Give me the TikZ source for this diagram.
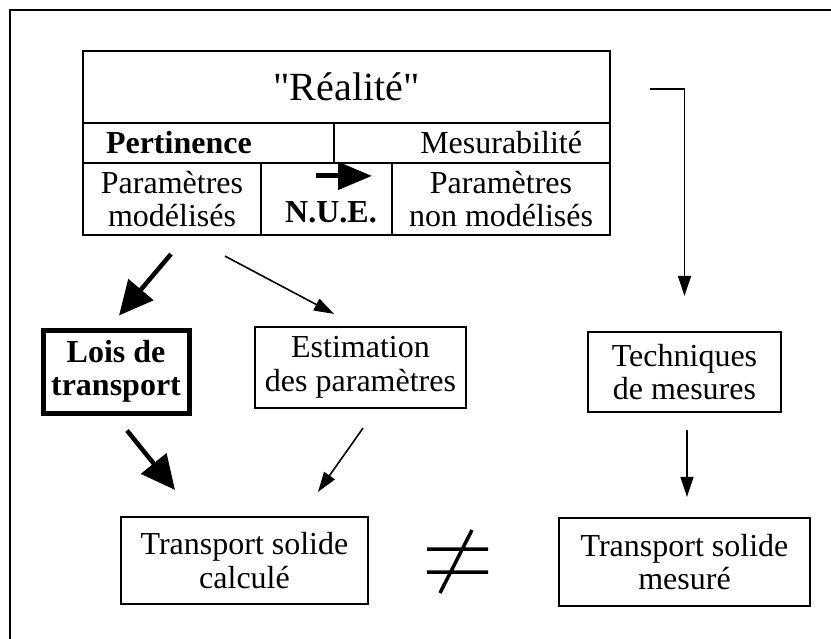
\documentclass[tikz,border=0pt]{standalone}
\usepackage{fontspec}
\setmainfont{Liberation Serif}
\newfontfamily\rawserif{Liberation Serif}
\usetikzlibrary{arrows.meta,calc}

\begin{document}
\begin{tikzpicture}[x=1pt, y=-1pt,
    cell/.style={draw, line width=2.2pt, inner sep=0pt, align=center},
    box/.style={draw, line width=2.2pt, inner sep=0pt, align=center},
    lawbox/.style={draw, line width=5pt, inner sep=0pt, align=center, font=\bfseries},
    thinarrow/.style={line width=1.6pt, -{Triangle[length=20pt,width=13pt]}},
    thickarrow/.style={line width=4.5pt, -{Triangle[length=34pt,width=32pt]}}]
    \useasboundingbox (0,0) rectangle (831,638);
    \fontsize{32}{33.5}\selectfont

    % Outer frame
    \draw[line width=2pt] (10,645) -- (10,10) -- (840,10);

    % Table of the "reality"
    \node[cell, minimum width=527pt, minimum height=72pt, font=\rawserif\fontsize{40}{44}\selectfont] (realite) at (346.5,87) {"Réalité"};
    \node[cell, minimum width=251pt, minimum height=40pt, text width=205pt, inner xsep=23pt, align=left, font=\bfseries] (pert) at (208.5,143) {Pertinence};
    \node[cell, minimum width=276pt, minimum height=40pt, text width=220pt, inner xsep=28pt, align=right] (mesur) at (472,143) {Mesurabilité};
    \node[cell, minimum width=178pt, minimum height=72pt] (pm) at (172,199) {Paramètres\\modélisés};
    \node[cell, minimum width=131pt, minimum height=72pt] (nue) at (326.5,199) {};
    \node[font=\bfseries, inner sep=0pt] (nuetext) at (331,212) {N.U.E.};
    \node[cell, minimum width=218pt, minimum height=72pt] (pnm) at (501,199) {Paramètres\\non modélisés};
    \draw[line width=5pt, -{Triangle[length=34pt,width=27pt]}] ($(nue.north)+(-10.5,14)$) -- ($(nue.north)+(45.5,14)$);

    % Middle row
    \node[lawbox, minimum width=146pt, minimum height=83pt] (lois) at (116,371.5) {Lois de\\transport};
    \node[box, minimum width=211pt, minimum height=81pt] (estim) at (360.5,367.5) {Estimation\\des paramètres};
    \node[box, minimum width=193pt, minimum height=80pt] (techn) at (684.5,372) {Techniques\\de mesures};

    % Bottom row
    \node[box, minimum width=247pt, minimum height=87pt] (calc) at (244.5,560.5) {Transport solide\\calculé};
    \node[box, minimum width=251pt, minimum height=88pt] (mesure) at (684.5,562) {Transport solide\\mesuré};

    % Not equal sign
    \draw[line width=3.5pt] (427,549) -- (488,549) (427,572) -- (488,572) (440,593) -- (472,530);

    % Connectors
    \draw[thickarrow] ($(pm.south)+(-1,18)$) -- ($(lois.north)+(3,-12)$);
    \draw[thinarrow] ($(pm.south)+(53,20)$) -- ($(estim.north)+(-26.5,-12)$);
    \draw[thickarrow] ($(lois.south)+(11,15)$) -- ($(calc.north)+(-69.5,-26)$);
    \draw[thinarrow] ($(estim.south)+(2.5,19)$) -- ($(calc.north)+(73.5,-24)$);
    \draw[thinarrow] ($(techn.south)+(2.5,17)$) -- ($(mesure.north)+(2.5,-20)$);
    \draw[thinarrow] ($(realite.east)+(39,2)$) -| ($(techn.north)+(0,-35)$);
\end{tikzpicture}
\end{document}
